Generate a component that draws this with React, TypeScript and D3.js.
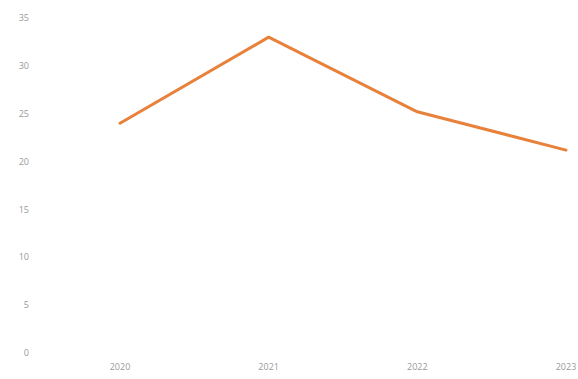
import React from "react";
import * as d3 from "d3";

const years = ["2020", "2021", "2022", "2023"];
const values = [24, 33, 25.2, 21.2];
const yTicks = [0, 5, 10, 15, 20, 25, 30, 35];
const title = "Annual rate of chronic illness in the local area since 2020 (%)";

export default function App() {
  const W = 578, H = 379;
  const x = d3.scalePoint<string>().domain(years).range([120, 566]);
  const y = d3.scaleLinear().domain([0, 35]).range([353, 18]);
  const line = d3
    .line<number>()
    .x((_, i) => x(years[i]) as number)
    .y((d) => y(d));
  return (
    <svg
      width={W}
      height={H}
      style={{ position: "absolute", left: 0, top: 0, background: "#fff" }}
      fontFamily="Open Sans, sans-serif"
    >
      <text x={289} y={-2} textAnchor="middle" fontSize={22} fontWeight="bold" fill="#222">
        {title}
      </text>
      {yTicks.map((t) => (
        <text key={t} x={29} y={y(t)} dy="0.35em" textAnchor="end" fontSize={9} fill="#9a9a9a">
          {t}
        </text>
      ))}
      {years.map((yr) => (
        <text key={yr} x={x(yr)} y={370} textAnchor="middle" fontSize={9} fill="#9a9a9a">
          {yr}
        </text>
      ))}
      <path
        d={line(values) || ""}
        fill="none"
        stroke="#e8813a"
        strokeWidth={3}
        strokeLinejoin="round"
        strokeLinecap="round"
      />
    </svg>
  );
}
